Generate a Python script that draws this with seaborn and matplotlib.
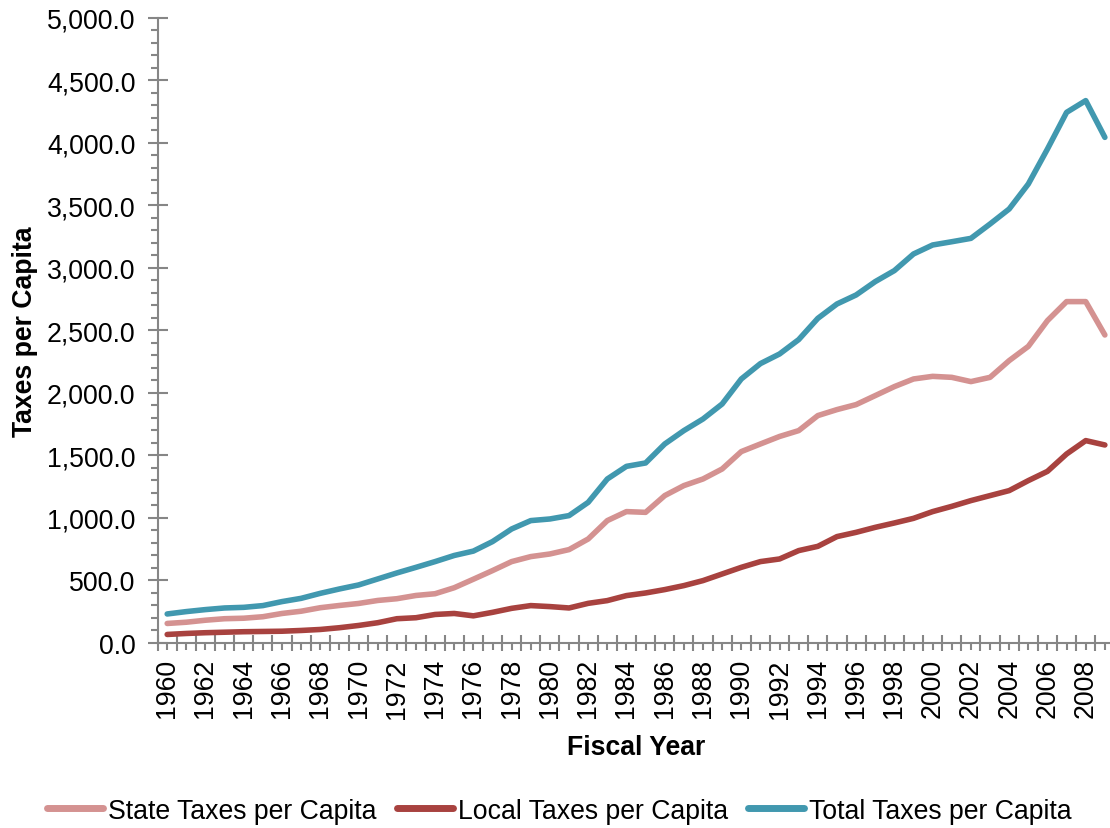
import numpy as np
import pandas as pd
import seaborn as sns
import matplotlib
matplotlib.use("Agg")
import matplotlib.pyplot as plt
from matplotlib.ticker import FuncFormatter, MultipleLocator
from matplotlib.lines import Line2D

# values
years = list(range(1960, 2010))

state_taxes = [156, 166, 182, 194, 198, 210, 236, 254, 282, 300,
               316, 340, 354, 380, 394, 442, 510, 579, 651, 691,
               712, 747, 832, 979, 1051, 1045, 1179, 1259, 1312, 1392,
               1531, 1592, 1652, 1699, 1819, 1867, 1907, 1979, 2051, 2112,
               2133, 2125, 2091, 2125, 2259, 2373, 2579, 2731, 2731, 2464]

local_taxes = [68, 76, 82, 86, 90, 92, 94, 100, 108, 122,
               140, 162, 194, 202, 228, 236, 217, 245, 277, 299,
               291, 280, 317, 339, 379, 400, 427, 459, 499, 552,
               605, 651, 672, 739, 773, 851, 885, 925, 960, 997,
               1051, 1093, 1139, 1179, 1219, 1299, 1373, 1512, 1619, 1584]

total_taxes = [232, 251, 267, 280, 285, 299, 331, 357, 397, 432,
               464, 512, 560, 605, 651, 700, 735, 811, 912, 979,
               992, 1019, 1125, 1312, 1413, 1440, 1592, 1699, 1792, 1912,
               2112, 2235, 2312, 2427, 2597, 2712, 2784, 2891, 2979, 3112,
               3184, 3210, 3237, 3352, 3472, 3672, 3952, 4245, 4339, 4045]

series_names = ["State Taxes per Capita", "Local Taxes per Capita", "Total Taxes per Capita"]
colors = ["#D49291", "#A8423F", "#4198AF"]

df = pd.DataFrame({"year": years,
                   series_names[0]: state_taxes,
                   series_names[1]: local_taxes,
                   series_names[2]: total_taxes})
long_df = df.melt(id_vars="year", var_name="series", value_name="value")

sns.set_style("ticks")
plt.rcParams["font.family"] = ["Liberation Sans", "DejaVu Sans"]
plt.rcParams["text.color"] = "black"
plt.rcParams["axes.labelcolor"] = "black"
plt.rcParams["xtick.color"] = "black"
plt.rcParams["ytick.color"] = "black"

fs = 19.2

fig = plt.figure(figsize=(11.1, 8.29), dpi=100)
ax = fig.add_axes([0.142, 0.2232, 0.862, 0.7539])

sns.lineplot(data=long_df, x="year", y="value", hue="series",
             palette=dict(zip(series_names, colors)), linewidth=4,
             legend=False, ax=ax)
for ln in ax.get_lines():
    ln.set_solid_capstyle("round")
    ln.set_solid_joinstyle("round")

ax.set_xlim(1959.5, 2009.5)
ax.set_ylim(0, 5000)

grey = "#868686"
for s in ["top", "right"]:
    ax.spines[s].set_visible(False)
for s in ["left", "bottom"]:
    ax.spines[s].set_color(grey)
    ax.spines[s].set_linewidth(1.5)

# y axis
ax.yaxis.set_major_locator(MultipleLocator(500))
ax.yaxis.set_minor_locator(MultipleLocator(100))
ax.yaxis.set_major_formatter(FuncFormatter(lambda v, p: "{:,.1f}".format(v)))
ax.tick_params(axis="y", which="major", left=True, direction="inout", length=14, width=1.5,
               color=grey, labelcolor="black", labelsize=fs, pad=9)
ax.tick_params(axis="y", which="minor", left=True, direction="out", length=5, width=1.5, color=grey)

# x axis
ax.set_xticks(years)
ax.set_xticklabels([str(y) if y % 2 == 0 else "" for y in years], rotation=90)
ax.set_xticks(np.arange(1959.5, 2010, 1), minor=True)
ax.tick_params(axis="x", which="major", bottom=True, direction="out", length=5, width=1.5,
               color=grey, labelcolor="black", labelsize=fs, pad=6)
ax.tick_params(axis="x", which="minor", bottom=True, direction="inout", length=12, width=1.5, color=grey)

ax.set_xlabel("Fiscal Year", fontsize=fs, fontweight="bold", labelpad=12)
ax.set_ylabel("Taxes per Capita", fontsize=fs, fontweight="bold", labelpad=6)

handles = [Line2D([0], [0], color=c, linewidth=5, solid_capstyle="round") for c in colors]
fig.legend(handles, series_names, loc="center", bbox_to_anchor=(0.504, 0.021),
           ncol=3, frameon=False, fontsize=fs, handlelength=2.1,
           handletextpad=0.2, columnspacing=0.75)

fig.savefig("out.png", dpi=100)
